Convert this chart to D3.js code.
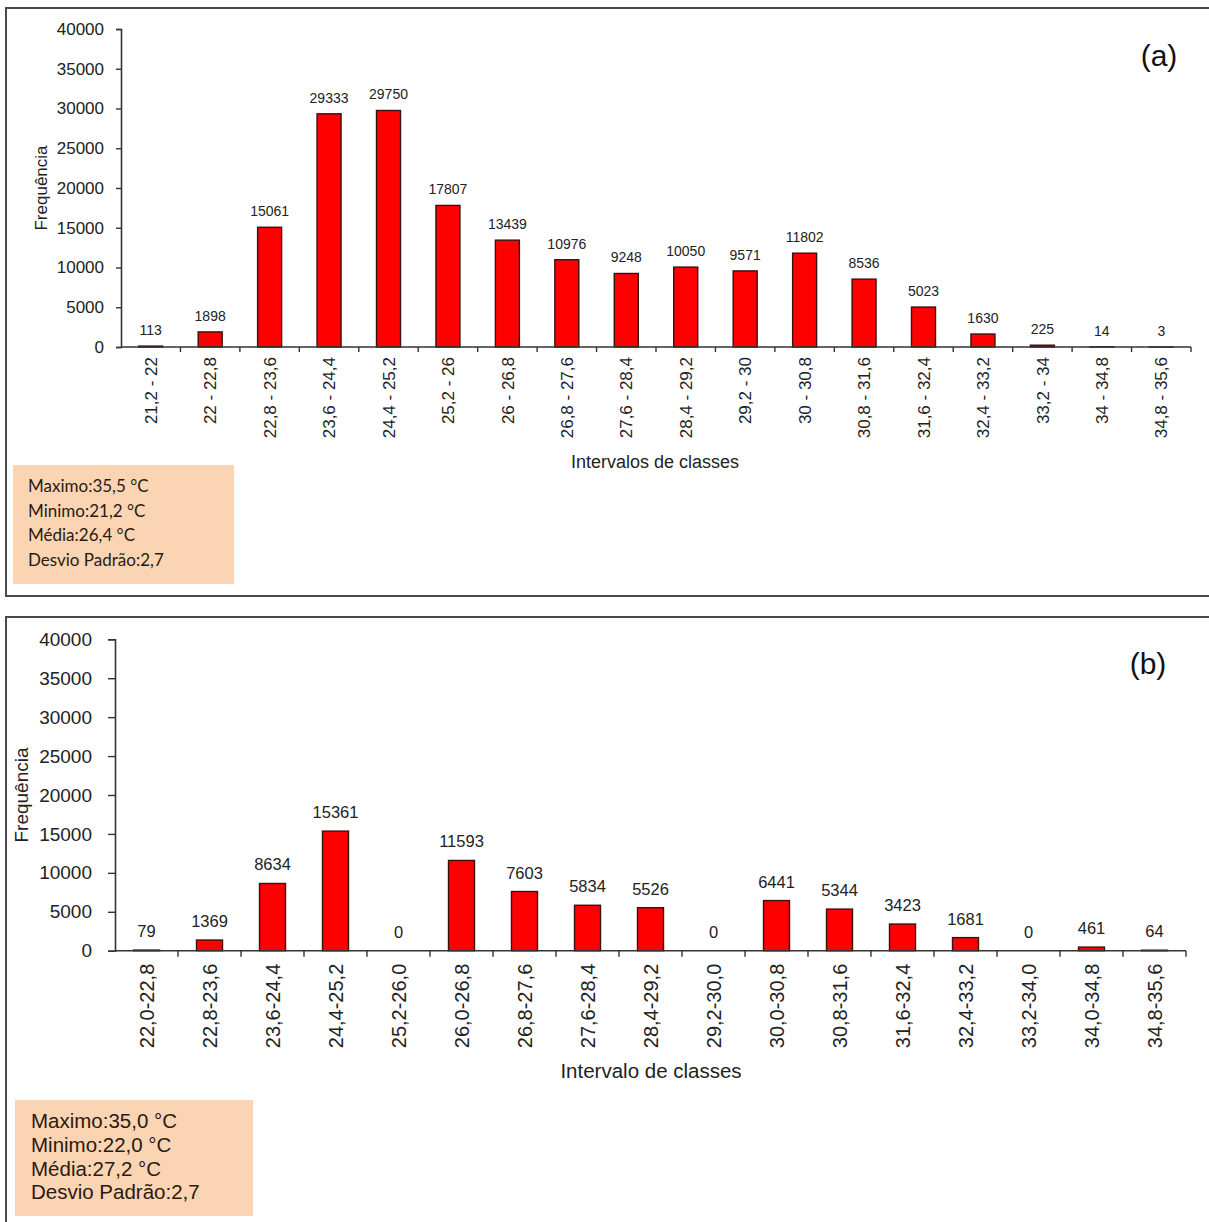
<!DOCTYPE html>
<html>
<head>
<meta charset="utf-8">
<script src="https://cdn.jsdelivr.net/npm/d3@7"></script>
<style>
  html, body { margin: 0; padding: 0; background: #ffffff; }
  svg { display: block; }
</style>
</head>
<body>
<svg id="chart" width="1209" height="1222"></svg>
<script>
// Frequency of temperature classes, two surveys (a) and (b)
const classesA = ["21,2 - 22", "22 - 22,8", "22,8 - 23,6", "23,6 - 24,4", "24,4 - 25,2", "25,2 - 26",
  "26 - 26,8", "26,8 - 27,6", "27,6 - 28,4", "28,4 - 29,2", "29,2 - 30", "30 - 30,8",
  "30,8 - 31,6", "31,6 - 32,4", "32,4 - 33,2", "33,2 - 34", "34 - 34,8", "34,8 - 35,6"];
const countsA = [113, 1898, 15061, 29333, 29750, 17807, 13439, 10976, 9248, 10050, 9571, 11802,
  8536, 5023, 1630, 225, 14, 3];
const statsA = ["Maximo:35,5 °C", "Minimo:21,2 °C", "Média:26,4 °C", "Desvio Padrão:2,7"];

const classesB = ["22,0-22,8", "22,8-23,6", "23,6-24,4", "24,4-25,2", "25,2-26,0", "26,0-26,8",
  "26,8-27,6", "27,6-28,4", "28,4-29,2", "29,2-30,0", "30,0-30,8", "30,8-31,6", "31,6-32,4",
  "32,4-33,2", "33,2-34,0", "34,0-34,8", "34,8-35,6"];
const countsB = [79, 1369, 8634, 15361, 0, 11593, 7603, 5834, 5526, 0, 6441, 5344, 3423, 1681, 0, 461, 64];
const statsB = ["Maximo:35,0 °C", "Minimo:22,0 °C", "Média:27,2 °C", "Desvio Padrão:2,7"];

const yTicks = [0, 5000, 10000, 15000, 20000, 25000, 30000, 35000, 40000];
const yMax = 40000;

const svg = d3.select("#chart");
const ARIAL = "'Liberation Sans', Arial, sans-serif";

function drawPanel(p, classes, counts, stats, tag, xTitle) {
  const g = svg.append("g");

  // frame
  g.append("rect")
    .attr("x", p.frame[0]).attr("y", p.frame[1])
    .attr("width", p.frame[2]).attr("height", p.frame[3])
    .attr("fill", "#fff").attr("stroke", "#4a4a4a").attr("stroke-width", 2);

  const x = d3.scaleBand().domain(classes).range([p.x0, p.x1]).paddingInner(0).paddingOuter(0);
  const y = d3.scaleLinear().domain([0, yMax]).range([p.y0, p.y1]);

  // y axis
  const yAxis = d3.axisLeft(y).tickValues(yTicks).tickFormat(d3.format("d"))
    .tickSize(p.yTickLen).tickPadding(p.yTickPad);
  const ya = g.append("g").attr("transform", `translate(${p.x0},0)`).call(yAxis);
  ya.select(".domain").attr("stroke", "#333").attr("stroke-width", 1.6);
  ya.selectAll(".tick line").attr("stroke", "#333").attr("stroke-width", 1.4);
  ya.selectAll(".tick text").attr("font-family", ARIAL).attr("font-size", p.yFont).attr("fill", "#222");

  // bars
  g.append("g").selectAll("rect").data(counts).join("rect")
    .attr("x", (d, i) => x(classes[i]) + (x.bandwidth() - p.barW) / 2)
    .attr("width", p.barW)
    .attr("y", d => y(d))
    .attr("height", d => Math.max(0, y(0) - y(d)))
    .attr("fill", "#ff0000")
    .attr("stroke", "#3a1010").attr("stroke-width", 1.4);

  // value labels
  g.append("g").selectAll("text").data(counts).join("text")
    .attr("x", (d, i) => x(classes[i]) + x.bandwidth() / 2)
    .attr("y", d => y(d) - p.valGap)
    .attr("text-anchor", "middle")
    .attr("font-family", ARIAL).attr("font-size", p.valFont).attr("fill", "#222")
    .text(d => d);

  // x axis with ticks at class boundaries
  const xa = g.append("g").attr("transform", `translate(0,${p.y0})`);
  xa.append("line").attr("x1", p.x0).attr("x2", p.x1).attr("y1", 0).attr("y2", 0)
    .attr("stroke", "#333").attr("stroke-width", 1.6);
  const bounds = classes.map(c => x(c)).concat([p.x1]).slice(1);
  xa.selectAll("line.tk").data(bounds).join("line").attr("class", "tk")
    .attr("x1", d => d).attr("x2", d => d).attr("y1", 0).attr("y2", p.xTickLen)
    .attr("stroke", "#333").attr("stroke-width", 1.4);
  xa.selectAll("text").data(classes).join("text")
    .attr("transform", d => `translate(${x(d) + x.bandwidth() / 2},${p.xLabGap}) rotate(-90)`)
    .attr("text-anchor", "end").attr("dy", "0.36em")
    .attr("font-family", ARIAL).attr("font-size", p.xFont).attr("fill", "#222")
    .text(d => d);

  // axis titles
  g.append("text")
    .attr("x", p.xTitlePos[0]).attr("y", p.xTitlePos[1])
    .attr("text-anchor", "middle").attr("font-family", ARIAL)
    .attr("font-size", p.titleFont).attr("fill", "#222").text(xTitle);
  g.append("text")
    .attr("transform", `translate(${p.yTitlePos[0]},${p.yTitlePos[1]}) rotate(-90)`)
    .attr("text-anchor", "middle").attr("dy", "0.36em").attr("font-family", ARIAL)
    .attr("font-size", p.yTitleFont).attr("fill", "#222").text("Frequência");

  // panel tag
  g.append("text")
    .attr("x", p.tagPos[0]).attr("y", p.tagPos[1])
    .attr("text-anchor", "middle").attr("font-family", ARIAL)
    .attr("font-size", 30).attr("fill", "#111").text(tag);

  // summary box
  g.append("rect")
    .attr("x", p.box[0]).attr("y", p.box[1]).attr("width", p.box[2]).attr("height", p.box[3])
    .attr("fill", "#fbd4b4");
  g.append("g").selectAll("text").data(stats).join("text")
    .attr("x", p.boxText[0]).attr("y", (d, i) => p.boxText[1] + i * p.boxLine)
    .attr("font-family", p.boxFamily).attr("font-size", p.boxFont).attr("fill", "#2a1a10")
    .text(d => d);
}

drawPanel({
  frame: [6, 8, 1210, 588],
  x0: 121, x1: 1191, y0: 347, y1: 29,
  yTickLen: 5, yTickPad: 12, yFont: 17,
  barW: 24, valGap: 11, valFont: 14,
  xTickLen: 5, xLabGap: 10, xFont: 17,
  xTitlePos: [655, 468], titleFont: 18,
  yTitlePos: [41, 188], yTitleFont: 17,
  tagPos: [1159, 66],
  box: [13, 465, 221, 119], boxText: [28, 492], boxLine: 24.5,
  boxFamily: "Lato, 'Open Sans', sans-serif", boxFont: 17
}, classesA, countsA, statsA, "(a)", "Intervalos de classes");

drawPanel({
  frame: [6, 617, 1210, 612],
  x0: 115, x1: 1186, y0: 950.7, y1: 639.3,
  yTickLen: 7, yTickPad: 16, yFont: 19,
  barW: 26, valGap: 13, valFont: 16.5,
  xTickLen: 6, xLabGap: 13, xFont: 20,
  xTitlePos: [651, 1078], titleFont: 20.5,
  yTitlePos: [21, 795], yTitleFont: 19,
  tagPos: [1148, 674],
  box: [15, 1100, 238, 116], boxText: [31, 1128], boxLine: 23.8,
  boxFamily: ARIAL, boxFont: 20.5
}, classesB, countsB, statsB, "(b)", "Intervalo de classes");
</script>
</body>
</html>
